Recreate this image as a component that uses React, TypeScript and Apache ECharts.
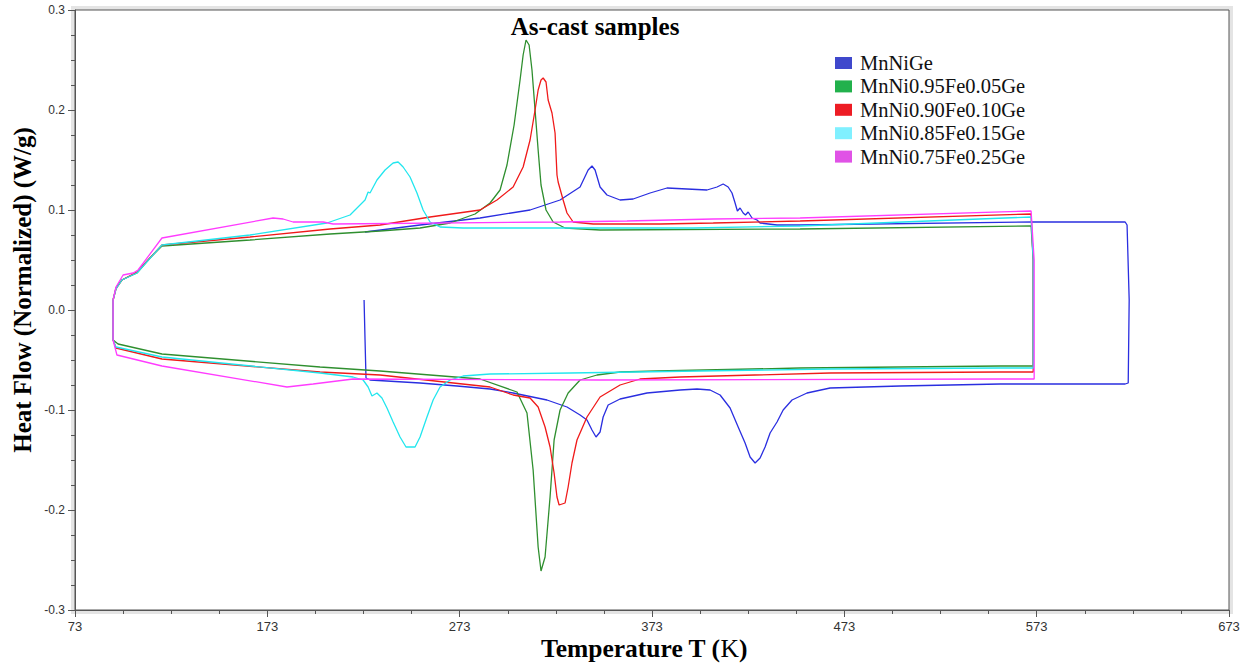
import React, { useEffect, useRef } from "react";
import * as echarts from "echarts";

const SERIES_NAMES = [
  "MnNiGe",
  "MnNi0.95Fe0.05Ge",
  "MnNi0.90Fe0.10Ge",
  "MnNi0.85Fe0.15Ge",
  "MnNi0.75Fe0.25Ge",
];
const LEGEND_COLORS = ["#3f48cc", "#22b14c", "#ed1c24", "#80f0ff", "#e052e6"];
const LINE_COLORS = ["#2a2ee0", "#2f8f2f", "#f01a1a", "#22e6ee", "#ff3cff"];

const X_TICKS = [73, 173, 273, 373, 473, 573, 673];

// [Temperature (K), Heat flow (W/g)] loops
const MnNiGe = [
  [223.3, 0.01], [223.8, -0.03], [224.3, -0.068], [226.4, -0.07], [252.4, -0.073], [271.6, -0.076],
  [288.8, -0.079], [300.8, -0.083], [318.4, -0.09], [328.8, -0.097], [335.6, -0.105], [339.2, -0.11],
  [341.8, -0.12], [343.9, -0.127], [346.0, -0.122], [347.6, -0.107], [350.2, -0.095], [356.4, -0.089],
  [370.4, -0.083], [387.6, -0.08], [396.4, -0.079], [403.2, -0.08], [408.4, -0.085], [413.6, -0.098],
  [417.8, -0.117], [421.4, -0.133], [424.0, -0.147], [426.6, -0.153], [429.2, -0.148], [431.8, -0.137],
  [434.4, -0.123], [438.0, -0.112], [441.2, -0.1], [445.8, -0.09], [453.6, -0.083], [465.6, -0.078],
  [502.0, -0.076], [554.0, -0.074], [619.0, -0.074], [620.6, -0.073], [621.1, 0.01], [620.0, 0.085],
  [619.0, 0.088], [571.2, 0.088], [450.0, 0.085], [438.0, 0.085], [429.2, 0.087], [427.6, 0.09],
  [425.0, 0.092], [423.0, 0.098], [421.6, 0.095], [420.4, 0.097], [418.8, 0.102], [417.4, 0.099],
  [416.2, 0.107], [414.6, 0.117], [412.6, 0.123], [410.0, 0.126], [406.8, 0.123], [401.6, 0.12],
  [391.2, 0.121], [380.8, 0.122], [372.0, 0.117], [363.2, 0.111], [356.4, 0.11], [349.6, 0.115],
  [346.0, 0.123], [343.4, 0.14], [341.8, 0.144], [339.8, 0.14], [335.6, 0.123], [325.2, 0.11],
  [309.6, 0.1], [283.6, 0.092], [252.4, 0.085], [223.8, 0.078],
];

const MnNi095Fe005Ge = [
  [92.8, 0.01], [94.3, 0.022], [97.4, 0.03], [100.6, 0.033], [105.2, 0.037], [112.0, 0.052],
  [118.2, 0.064], [164.0, 0.07], [205.6, 0.076], [231.6, 0.079], [252.4, 0.082], [268.0, 0.087],
  [281.0, 0.096], [288.8, 0.107], [294.0, 0.12], [297.6, 0.145], [301.3, 0.185], [304.4, 0.23],
  [306.0, 0.255], [307.5, 0.27], [309.1, 0.265], [310.6, 0.24], [312.2, 0.2], [313.8, 0.16],
  [315.3, 0.125], [317.9, 0.1], [321.6, 0.088], [327.8, 0.082], [346.0, 0.08], [450.0, 0.081],
  [570.1, 0.084], [571.2, 0.05], [571.2, -0.056], [554.0, -0.056], [450.0, -0.058], [375.6, -0.061],
  [356.4, -0.062], [344.4, -0.065], [335.6, -0.07], [329.4, -0.083], [325.2, -0.1], [322.1, -0.13],
  [320.0, -0.187], [317.4, -0.247], [315.3, -0.261], [313.8, -0.237], [311.2, -0.16], [308.0, -0.103],
  [302.8, -0.082], [283.6, -0.069], [231.6, -0.061], [200.4, -0.057], [118.2, -0.044], [95.4, -0.034],
  [92.8, -0.03], [92.8, 0.01],
];

const MnNi090Fe010Ge = [
  [92.8, 0.01], [94.3, 0.021], [97.4, 0.03], [105.2, 0.038], [118.2, 0.065], [164.0, 0.073],
  [205.6, 0.081], [231.6, 0.085], [257.6, 0.093], [283.6, 0.1], [292.4, 0.11], [300.8, 0.123],
  [306.0, 0.143], [309.6, 0.17], [312.2, 0.2], [313.8, 0.22], [315.3, 0.23], [316.4, 0.232],
  [317.9, 0.228], [319.0, 0.21], [321.0, 0.197], [322.6, 0.177], [323.6, 0.135], [324.2, 0.128],
  [326.8, 0.11], [328.8, 0.097], [332.0, 0.088], [342.4, 0.086], [377.2, 0.086], [404.8, 0.087],
  [450.0, 0.089], [570.1, 0.096], [571.2, 0.05], [571.2, -0.062], [554.0, -0.062], [465.6, -0.063],
  [387.6, -0.067], [366.8, -0.069], [356.4, -0.075], [346.0, -0.087], [339.2, -0.107], [334.0, -0.13],
  [331.4, -0.153], [329.4, -0.177], [327.8, -0.193], [324.7, -0.195], [323.6, -0.187], [322.1, -0.163],
  [320.0, -0.137], [317.4, -0.117], [313.8, -0.097], [309.6, -0.088], [300.8, -0.085], [288.8, -0.077],
  [231.6, -0.065], [200.4, -0.062], [118.2, -0.049], [94.3, -0.038], [92.8, -0.03], [92.8, 0.01],
];

const MnNi085Fe015Ge = [
  [92.8, 0.01], [94.3, 0.021], [97.4, 0.03], [105.2, 0.037], [118.2, 0.065], [164.0, 0.075],
  [204.0, 0.087], [216.0, 0.095], [223.8, 0.11], [225.4, 0.118], [226.4, 0.117], [230.0, 0.13],
  [234.2, 0.14], [238.4, 0.147], [241.0, 0.148], [243.6, 0.143], [247.2, 0.133], [250.8, 0.117],
  [254.0, 0.1], [257.6, 0.088], [262.8, 0.083], [274.8, 0.082], [326.8, 0.082], [394.4, 0.082],
  [450.0, 0.084], [570.1, 0.093], [571.2, 0.05], [571.2, -0.058], [554.0, -0.058], [465.6, -0.059],
  [330.4, -0.063], [288.8, -0.064], [274.8, -0.066], [268.0, -0.07], [262.8, -0.077], [259.2, -0.09],
  [256.0, -0.107], [252.4, -0.127], [249.8, -0.137], [245.1, -0.137], [242.0, -0.127], [238.4, -0.112],
  [235.2, -0.098], [232.6, -0.088], [230.0, -0.083], [227.4, -0.086], [225.4, -0.077], [222.8, -0.07],
  [217.6, -0.067], [200.4, -0.063], [118.2, -0.047], [94.3, -0.037], [92.8, -0.03], [92.8, 0.01],
];

const MnNi075Fe025Ge = [
  [92.8, 0.01], [94.3, 0.023], [98.0, 0.035], [103.2, 0.037], [105.8, 0.04], [118.2, 0.072],
  [176.0, 0.092], [181.2, 0.091], [186.4, 0.088], [202.0, 0.088], [207.2, 0.086], [325.2, 0.088],
  [360.0, 0.089], [404.8, 0.091], [450.0, 0.092], [570.1, 0.099], [571.7, 0.05], [571.7, -0.069],
  [554.0, -0.069], [346.0, -0.07], [217.6, -0.069], [196.8, -0.074], [183.2, -0.077], [118.2, -0.056],
  [94.8, -0.045], [92.8, -0.03], [92.8, 0.01],
];

const SERIES_DATA = [MnNiGe, MnNi095Fe005Ge, MnNi090Fe010Ge, MnNi085Fe015Ge, MnNi075Fe025Ge];

export default function App() {
  const ref = useRef<HTMLDivElement>(null);
  useEffect(() => {
    if (!ref.current) return;
    const chart = echarts.init(ref.current, null, { renderer: "svg" });
    const minorX: number[] = [];
    for (let i = 0; i < X_TICKS.length - 1; i++) {
      const step = (X_TICKS[i + 1] - X_TICKS[i]) / 4;
      for (let k = 1; k < 4; k++) minorX.push(X_TICKS[i] + step * k);
    }
    const axisColor = "#555";
    const option: any = {
      animation: false,
      grid: { left: 75, right: 18, top: 10, bottom: 53, show: true, borderColor: axisColor, borderWidth: 1 },
      legend: {
        orient: "vertical",
        left: 835,
        top: 52,
        padding: 0,
        itemWidth: 17,
        itemHeight: 12,
        itemGap: 1.4,
        icon: "rect",
        data: SERIES_NAMES,
        itemStyle: { borderWidth: 0 },
        textStyle: {
          fontFamily: "Liberation Serif",
          fontSize: 20.5,
          color: "#111",
          lineHeight: 22,
          padding: [0, 0, 0, 3],
        },
      },
      xAxis: [
        {
          type: "value",
          min: 73,
          max: 673,
          axisLine: { onZero: false, lineStyle: { color: axisColor } },
          axisTick: { customValues: X_TICKS, length: 7, lineStyle: { color: axisColor } },
          axisLabel: {
            customValues: X_TICKS,
            margin: 10,
            color: "#333",
            fontFamily: "Liberation Sans Narrow, Liberation Sans",
            fontSize: 13,
          },
          splitLine: { show: false },
        },
        {
          type: "value",
          min: 73,
          max: 673,
          position: "bottom",
          axisLine: { show: false, onZero: false },
          axisTick: { customValues: minorX, length: 4, lineStyle: { color: axisColor } },
          axisLabel: { show: false },
          splitLine: { show: false },
        },
      ],
      yAxis: {
        type: "value",
        min: -0.3,
        max: 0.3,
        interval: 0.1,
        axisLine: { show: true, onZero: false, lineStyle: { color: axisColor } },
        axisTick: { show: true, length: 7, lineStyle: { color: axisColor } },
        minorTick: { show: true, splitNumber: 4, length: 4, lineStyle: { color: axisColor } },
        axisLabel: {
          margin: 10,
          color: "#333",
          fontFamily: "Liberation Sans",
          fontSize: 12,
          formatter: (v: number) => {
            const s = (Math.round(v * 10) / 10).toFixed(1);
            return s === "-0.0" ? "0.0" : s;
          },
        },
        splitLine: { show: false },
        minorSplitLine: { show: false },
      },
      graphic: [
        {
          type: "rect",
          z: -1,
          silent: true,
          shape: { x: 73, y: 8, width: 1158, height: 604 },
          style: { fill: "none", stroke: "#e4e4e4", lineWidth: 4 },
        },
        {
          type: "text",
          x: 595,
          y: 26,
          style: {
            text: "As-cast samples",
            fontFamily: "Liberation Serif",
            fontWeight: "bold",
            fontSize: 25,
            fill: "#000",
            align: "center",
            verticalAlign: "middle",
          },
        },
        {
          type: "text",
          x: 22,
          y: 290,
          rotation: Math.PI / 2,
          style: {
            text: "Heat Flow (Normalized) (W/g)",
            fontFamily: "Liberation Serif",
            fontWeight: "bold",
            fontSize: 25,
            fill: "#000",
            align: "center",
            verticalAlign: "middle",
          },
        },
        {
          type: "text",
          x: 644,
          y: 648,
          style: {
            text: "{b|Temperature T (}{n|K}{b|)}",
            align: "center",
            verticalAlign: "middle",
            rich: {
              b: { fontFamily: "Liberation Serif", fontWeight: "bold", fontSize: 25.5, fill: "#000" },
              n: { fontFamily: "Liberation Serif", fontWeight: "normal", fontSize: 25.5, fill: "#000" },
            },
          },
        },
      ],
      series: SERIES_NAMES.map((name, i) => ({
        name,
        type: "line",
        xAxisIndex: 0,
        data: SERIES_DATA[i],
        showSymbol: false,
        symbol: "none",
        smooth: false,
        itemStyle: { color: LEGEND_COLORS[i] },
        lineStyle: { color: LINE_COLORS[i], width: 1.3 },
        z: 2 + i,
      })),
    };
    chart.setOption(option);
    return () => chart.dispose();
  }, []);
  return (
    <div
      ref={ref}
      style={{ position: "fixed", left: 0, top: 0, width: 1247, height: 663, background: "#fff" }}
    />
  );
}
